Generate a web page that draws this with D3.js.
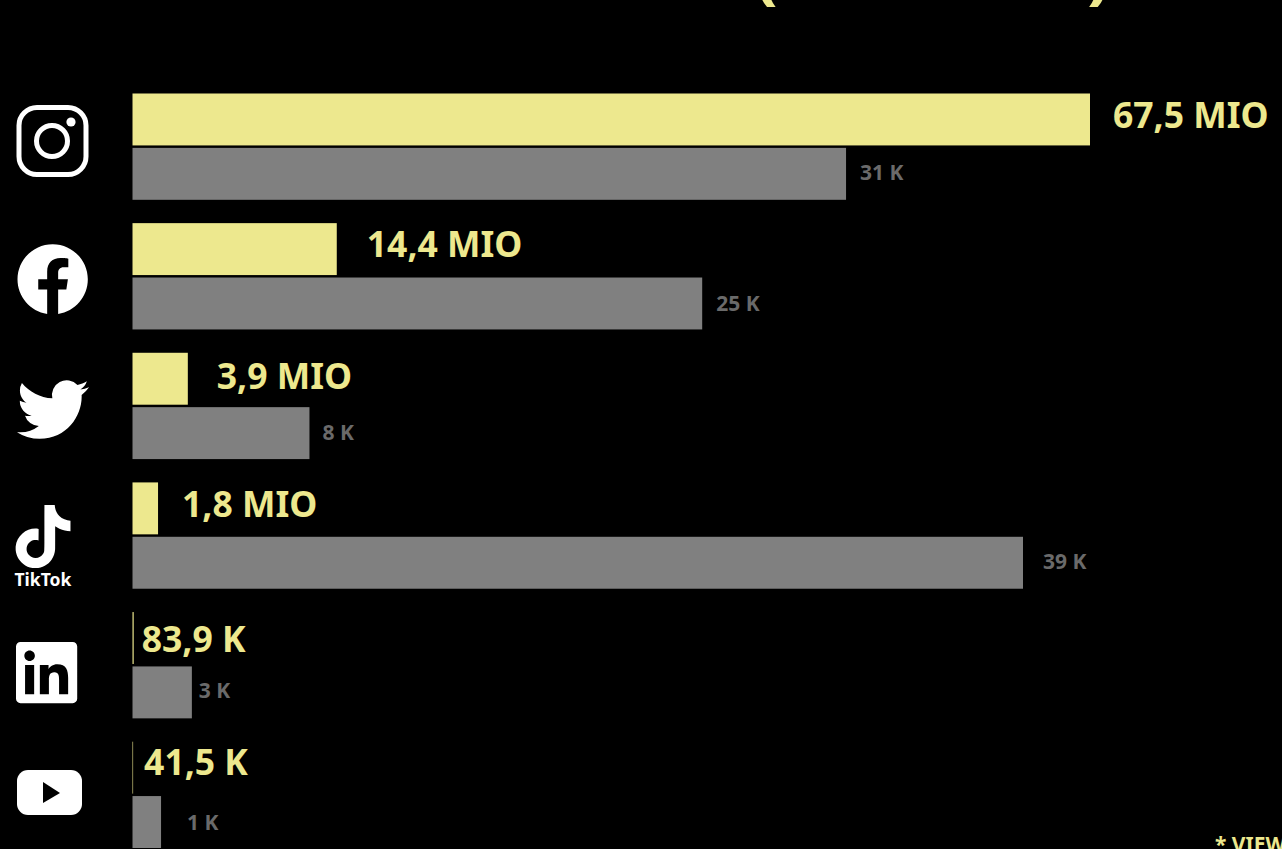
<!DOCTYPE html>
<meta charset="utf-8" />
<script src="https://d3js.org/d3.v7.min.js"></script>
<style>
	html, body { margin: 0; background: #000; overflow: hidden; }
	text { font-family: 'Noto Sans', sans-serif; font-weight: 700; }
</style>
<div id="my_dataviz"></div>

<script>
	// values
	var platforms = ['Instagram', 'Facebook', 'Twitter', 'TikTok', 'LinkedIn', 'YouTube'];
	var views = [67.5, 14.4, 3.9, 1.8, 0.0839, 0.0415]; // millions
	var likes = [31.25, 24.95, 7.75, 39, 2.6, 1.25]; // thousands
	var viewLabels = ['67,5 MIO', '14,4 MIO', '3,9 MIO', '1,8 MIO', '83,9 K', '41,5 K'];
	var likeLabels = ['31 K', '25 K', '8 K', '39 K', '3 K', '1 K'];

	// label nudges, the source placed them by hand
	var viewNudge = [[23, -2], [30, -2], [29, 0], [24, -1], [8, 4], [11, -3]];
	var likeNudge = [[14, 0], [14, 1], [13, 1], [20, 0], [7, 0], [26, 2]];

	var width = 1282, height = 849;
	var yellow = '#ede88e', gray = '#808080';

	var svg = d3
		.select('#my_dataviz')
		.append('svg')
		.attr('width', width)
		.attr('height', height)
		.style('display', 'block');

	var y = d3.scaleBand().domain(platforms).range([93.5, 848]).paddingInner(0.18);
	var sub = d3.scaleBand().domain(['views', 'likes']).range([0, y.bandwidth()]).paddingInner(0.045);
	var xViews = d3.scaleLinear().domain([0, 67.5]).range([132.5, 1090]);
	var xLikes = d3.scaleLinear().domain([0, 39]).range([132.5, 1023]);

	var rows = svg
		.selectAll('.row')
		.data(platforms)
		.enter()
		.append('g')
		.attr('class', 'row')
		.attr('transform', function (d) {
			return 'translate(0,' + y(d) + ')';
		});

	// yellow bars
	rows
		.append('rect')
		.attr('x', xViews(0))
		.attr('y', sub('views'))
		.attr('width', function (d, i) {
			return xViews(views[i]) - xViews(0);
		})
		.attr('height', sub.bandwidth())
		.attr('fill', yellow);

	// gray bars
	rows
		.append('rect')
		.attr('x', xLikes(0))
		.attr('y', sub('likes'))
		.attr('width', function (d, i) {
			return xLikes(likes[i]) - xLikes(0);
		})
		.attr('height', sub.bandwidth())
		.attr('fill', gray);

	rows
		.append('text')
		.attr('x', function (d, i) {
			return xViews(views[i]) + viewNudge[i][0];
		})
		.attr('y', function (d, i) {
			return sub('views') + 36 + viewNudge[i][1];
		})
		.style('font-size', '35.5px')
		.attr('fill', yellow)
		.text(function (d, i) {
			return viewLabels[i];
		});

	rows
		.append('text')
		.attr('x', function (d, i) {
			return xLikes(likes[i]) + likeNudge[i][0];
		})
		.attr('y', function (d, i) {
			return sub('likes') + 32 + likeNudge[i][1];
		})
		.style('font-size', '21px')
		.attr('fill', '#6a6a6a')
		.text(function (d, i) {
			return likeLabels[i];
		});

	// platform logos
	function icon(path, tx, ty, s, fill) {
		return svg
			.append('path')
			.attr('d', path)
			.attr('transform', 'translate(' + tx + ',' + ty + ')scale(' + s + ')')
			.attr('fill', fill || '#fff');
	}

	// instagram
	var ig = svg.append('g').attr('fill', 'none').attr('stroke', '#fff').attr('stroke-width', 5);
	ig.append('rect').attr('x', 19).attr('y', 107.5).attr('width', 67).attr('height', 67).attr('rx', 18);
	ig.append('circle').attr('cx', 52).attr('cy', 141).attr('r', 15.5);
	svg.append('circle').attr('cx', 71).attr('cy', 122).attr('r', 4.6).attr('fill', '#fff');

	// facebook
	icon('M24 12.073c0-6.627-5.373-12-12-12s-12 5.373-12 12c0 5.99 4.388 10.954 10.125 11.854v-8.385H7.078v-3.47h3.047V9.43c0-3.007 1.792-4.669 4.533-4.669 1.312 0 2.686.235 2.686.235v2.953H15.83c-1.491 0-1.956.925-1.956 1.874v2.25h3.328l-.532 3.47h-2.796v8.385C19.612 23.027 24 18.062 24 12.073z', 17.5, 244, 2.93);

	// twitter
	icon('M23.953 4.57a10 10 0 01-2.825.775 4.958 4.958 0 002.163-2.723c-.951.555-2.005.959-3.127 1.184a4.92 4.92 0 00-8.384 4.482C7.69 8.095 4.067 6.13 1.64 3.162a4.822 4.822 0 00-.666 2.475c0 1.71.87 3.213 2.188 4.096a4.904 4.904 0 01-2.228-.616v.06a4.923 4.923 0 003.946 4.827 4.996 4.996 0 01-2.212.085 4.936 4.936 0 004.604 3.417 9.867 9.867 0 01-6.102 2.105c-.39 0-.779-.023-1.17-.067a13.995 13.995 0 007.557 2.209c9.053 0 13.998-7.496 13.998-13.985 0-.21 0-.42-.015-.63A9.935 9.935 0 0024 4.59z', 17, 373.5, 3);

	// tiktok
	icon('M12.525.02c1.31-.02 2.61-.01 3.91-.02.08 1.53.63 3.09 1.75 4.17 1.12 1.11 2.7 1.62 4.24 1.79v4.03c-1.44-.05-2.89-.35-4.2-.97-.57-.26-1.1-.59-1.62-.93-.01 2.92.01 5.84-.02 8.75-.08 1.4-.54 2.79-1.35 3.94-1.31 1.92-3.58 3.17-5.91 3.21-1.43.08-2.86-.31-4.08-1.03-2.02-1.19-3.44-3.37-3.65-5.71-.02-.5-.03-1-.01-1.49.18-1.9 1.12-3.72 2.58-4.96 1.66-1.44 3.98-2.13 6.15-1.72.02 1.48-.04 2.96-.04 4.44-.99-.32-2.15-.23-3.02.37-.63.41-1.11 1.04-1.36 1.75-.21.51-.15 1.07-.14 1.61.24 1.64 1.82 3.02 3.5 2.87 1.12-.01 2.19-.66 2.77-1.61.19-.33.4-.67.41-1.06.1-1.79.06-3.57.07-5.36.01-4.03-.01-8.05.02-12.07z', 11.5, 505, 2.63);
	svg
		.append('text')
		.attr('x', 14.5)
		.attr('y', 586)
		.style('font-size', '17.5px')
		.attr('fill', '#fff')
		.text('TikTok');

	// linkedin
	icon('M20.447 20.452h-3.554v-5.569c0-1.328-.027-3.037-1.852-3.037-1.853 0-2.136 1.445-2.136 2.939v5.667H9.351V9h3.414v1.561h.046c.477-.9 1.637-1.85 3.37-1.85 3.601 0 4.267 2.37 4.267 5.455v6.286zM5.337 7.433c-1.144 0-2.063-.926-2.063-2.065 0-1.138.92-2.063 2.063-2.063 1.14 0 2.064.925 2.064 2.063 0 1.139-.925 2.065-2.064 2.065zm1.782 13.019H3.555V9h3.564v11.452zM22.225 0H1.771C.792 0 0 .774 0 1.729v20.542C0 23.227.792 24 1.771 24h20.451C23.2 24 24 23.227 24 22.271V1.729C24 .774 23.2 0 22.222 0h.003z', 16, 642, 2.55);

	// youtube
	svg.append('rect').attr('x', 17).attr('y', 770).attr('width', 65).attr('height', 45).attr('rx', 11).attr('fill', '#fff');
	svg.append('path').attr('d', 'M43 782L60 793L43 803Z').attr('fill', '#000');

	// what is left of the cropped title
	svg.append('text').attr('x', 754).attr('y', -4).style('font-size', '70px').attr('fill', yellow).text('(');
	svg.append('text').attr('x', 1087).attr('y', -4).style('font-size', '70px').attr('fill', yellow).text(')');

	// cropped footnote
	svg
		.append('text')
		.attr('x', 1215)
		.attr('y', 852)
		.style('font-size', '21px')
		.attr('fill', yellow)
		.text('* VIEWS');
</script>
